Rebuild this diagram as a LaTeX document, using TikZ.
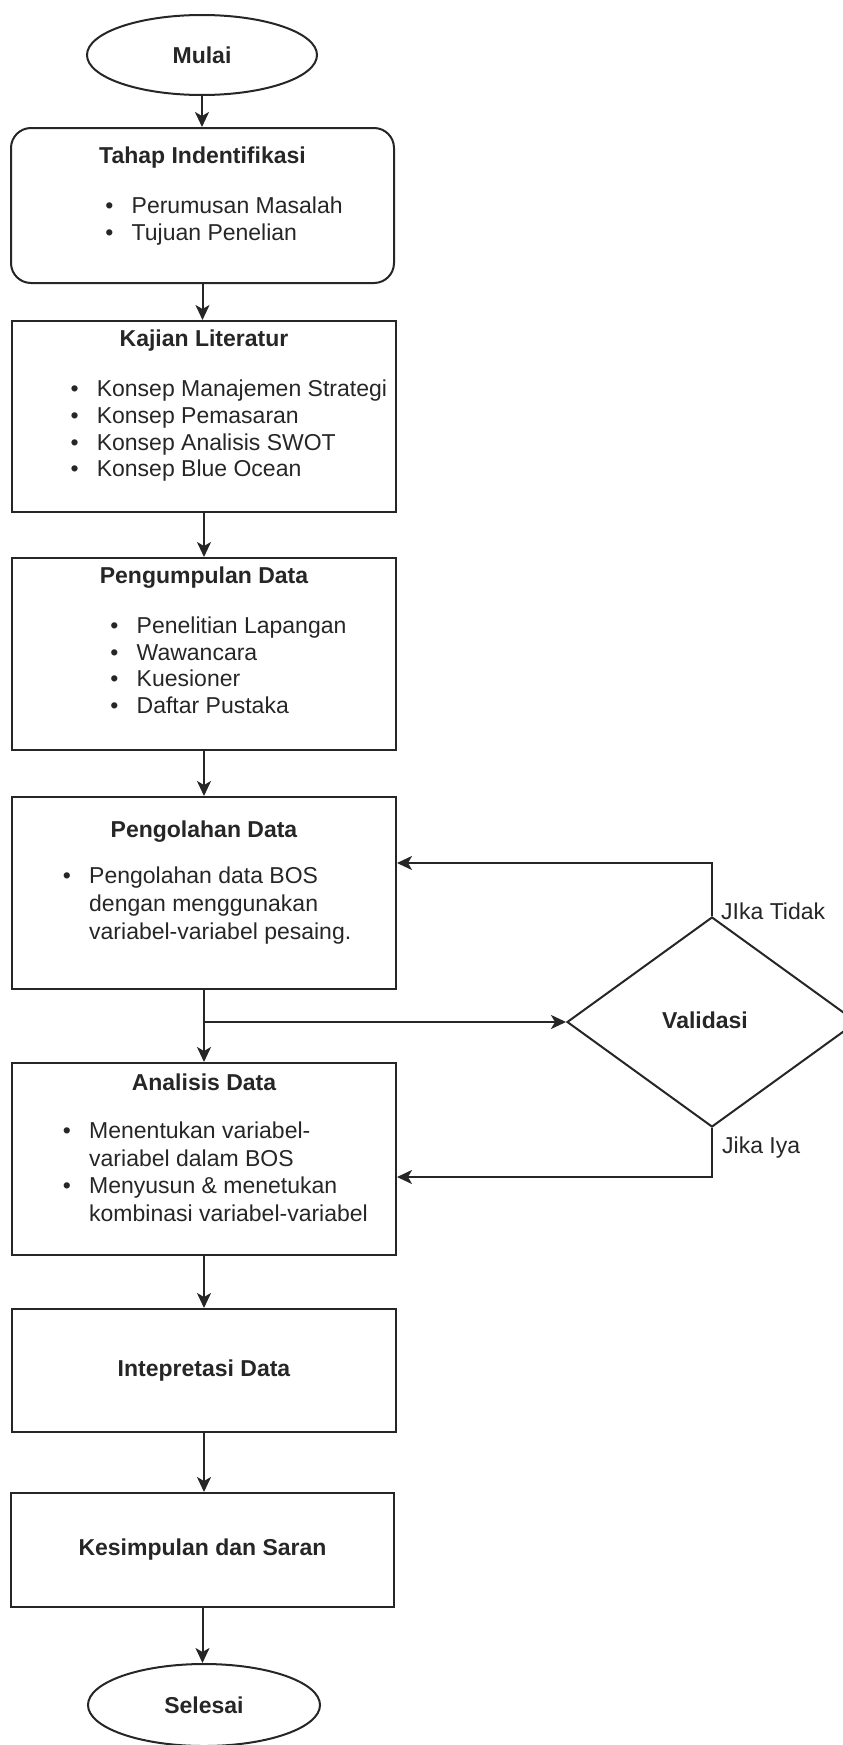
\documentclass[tikz,border=0pt]{standalone}
\usepackage{fontspec}
\setmainfont{Liberation Sans}
\usetikzlibrary{shapes.geometric,arrows.meta}
\definecolor{ink}{HTML}{262626}

% one bulleted line: name, x of text, baseline, text
\newcommand\bulletline[4]{%
  \node[itemtext] (#1) at (#2,#3) {#4};
  \node[bulletdot] (#1-dot) at (#2,#3) {\textbullet};}
% wrapped continuation of a bulleted line
\newcommand\contline[4]{%
  \node[itemtext] (#1) at (#2,#3) {#4};}

\begin{document}
\begin{tikzpicture}[x=1pt,y=-1pt,
  every node/.style={text=ink},
  txt/.style={font=\fontsize{23}{27.6}\selectfont, inner sep=0pt},
  boldtxt/.style={font=\fontsize{23}{27.6}\selectfont\bfseries},
  boxtitle/.style={boldtxt, inner sep=0pt, anchor=base},
  itemtext/.style={txt, anchor=base west},
  bulletdot/.style={txt, anchor=base, xshift=-22pt},
  stepbox/.style 2 args={draw=ink, line width=2pt, rectangle, inner sep=0pt,
    minimum width=#1pt, minimum height=#2pt, boldtxt},
  terminal/.style 2 args={draw=ink, line width=2pt, ellipse, inner sep=0pt,
    minimum width=#1pt, minimum height=#2pt, boldtxt},
  decision/.style={draw=ink, line width=2pt, diamond, inner sep=0pt,
    minimum width=290pt, minimum height=210pt},
  flow/.style={draw=ink, line width=2pt,
    -{Stealth[length=15pt,width=14pt,inset=4pt]}},
]
\useasboundingbox (0,0) rectangle (843,1745);

% start
\node[terminal={230}{80}] (mulai) at (202,55) {Mulai};

% identification stage
\node[stepbox={383}{155}, rounded corners=20pt] (tahap) at (202.5,205.5) {};
\node[boxtitle] (tahap-t) at (202.5,163) {Tahap Indentifikasi};
\bulletline{tahap-1}{131.5}{213.3}{Perumusan Masalah}
\bulletline{tahap-2}{131.5}{240}{Tujuan Penelian}

% literature review
\node[stepbox={384}{191}] (kajian) at (204,416.5) {};
\node[boxtitle] (kajian-t) at (204,346.7) {Kajian Literatur};
\bulletline{kajian-1}{96.6}{396.7}{Konsep Manajemen Strategi}
\bulletline{kajian-2}{96.6}{423.3}{Konsep Pemasaran}
\bulletline{kajian-3}{96.6}{450}{Konsep Analisis SWOT}
\bulletline{kajian-4}{96.6}{476.7}{Konsep Blue Ocean}

% data collection
\node[stepbox={384}{192}] (kumpul) at (204,654) {};
\node[boxtitle] (kumpul-t) at (204,583) {Pengumpulan Data};
\bulletline{kumpul-1}{136.5}{633.3}{Penelitian Lapangan}
\bulletline{kumpul-2}{136.5}{660}{Wawancara}
\bulletline{kumpul-3}{136.5}{686.7}{Kuesioner}
\bulletline{kumpul-4}{136.5}{713.3}{Daftar Pustaka}

% data processing
\node[stepbox={384}{192}] (olah) at (204,893) {};
\node[boxtitle] (olah-t) at (204,837) {Pengolahan Data};
\bulletline{olah-1}{89}{883.3}{Pengolahan data BOS}
\contline{olah-2}{89}{911.5}{dengan menggunakan}
\contline{olah-3}{89}{939}{variabel-variabel pesaing.}

% data analysis
\node[stepbox={384}{192}] (analisis) at (204,1159) {};
\node[boxtitle] (analisis-t) at (204,1090) {Analisis Data};
\bulletline{analisis-1}{89}{1138.5}{Menentukan variabel-}
\contline{analisis-2}{89}{1166}{variabel dalam BOS}
\bulletline{analisis-3}{89}{1193.5}{Menyusun \& menetukan}
\contline{analisis-4}{89}{1221}{kombinasi variabel-variabel}

% interpretation and conclusion
\node[stepbox={384}{123}] (interp) at (204,1370.5) {Intepretasi Data};
\node[stepbox={383}{114}] (simpul) at (202.5,1550) {Kesimpulan dan Saran};

% end
\node[terminal={232}{82}] (selesai) at (204,1705) {Selesai};

% validation
\node[decision] (val) at (712,1022) {};
\node[boxtitle] (val-t) at (705,1028) {Validasi};
\node[itemtext] (tidak) at (721,919) {JIka Tidak};
\node[itemtext] (iya) at (722,1153) {Jika Iya};

% main flow
\draw[flow] (mulai.south) -- (mulai.south |- tahap.north);
\draw[flow] (tahap.south) -- (tahap.south |- kajian.north);
\draw[flow] (kajian) -- (kumpul);
\draw[flow] (kumpul) -- (olah);
\draw[flow] (olah) -- (analisis);
\draw[flow] (analisis) -- (interp);
\draw[flow] (interp.south) -- (interp.south |- simpul.north);
\draw[flow] (simpul.south) -- (simpul.south |- selesai.north);

% validation loop
\coordinate (branch) at (olah.south |- val.west);
\draw[flow] (branch) -- (val.west);
\draw[flow] (val.north) |- ([yshift=30pt]olah.east);
\draw[flow] (val.south) |- ([yshift=-18pt]analisis.east);
\end{tikzpicture}
\end{document}
